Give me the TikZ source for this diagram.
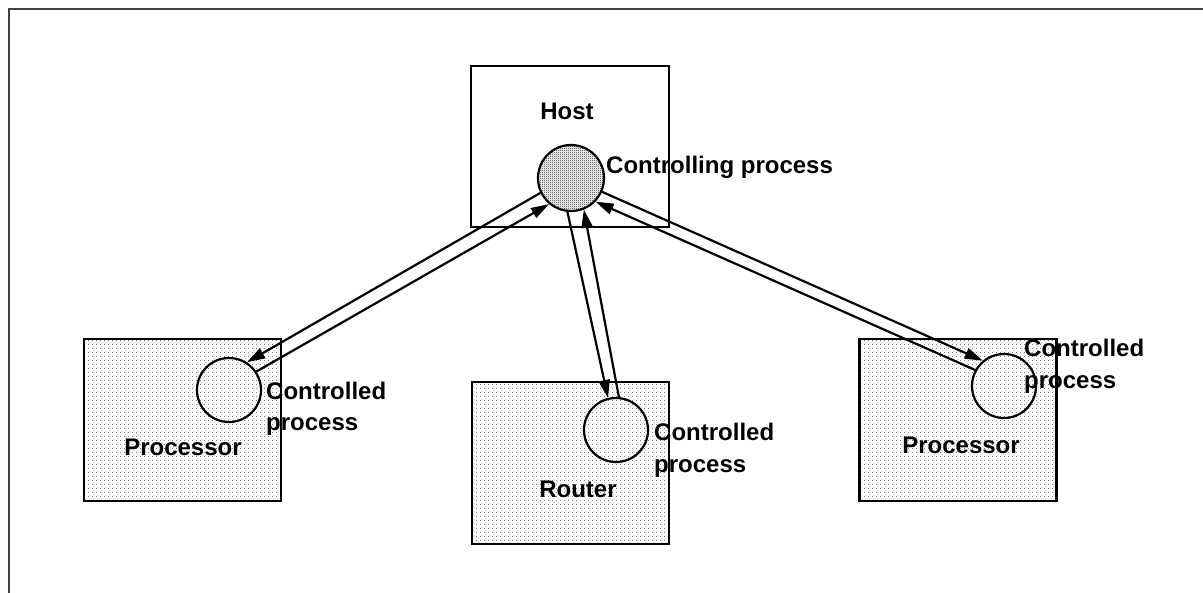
\documentclass[tikz,border=0pt]{standalone}
\usepackage{fontspec}
\setmainfont{Liberation Sans}
\usetikzlibrary{arrows.meta,patterns.meta}

% light stipple used inside the processor and router boxes
\pgfdeclarepattern{
  name=sparsedots, type=uncolored,
  bottom left={\pgfpointorigin}, top right={\pgfpoint{4bp}{4bp}},
  tile size={\pgfpoint{4bp}{4bp}},
  code={\pgfpathrectangle{\pgfpointorigin}{\pgfpoint{1bp}{1bp}}
        \pgfpathrectangle{\pgfpoint{2bp}{2bp}}{\pgfpoint{1bp}{1bp}}
        \pgfusepath{fill}}}
% dense checker used for the controlling process
\pgfdeclarepattern{
  name=densedots, type=uncolored,
  bottom left={\pgfpointorigin}, top right={\pgfpoint{2bp}{2bp}},
  tile size={\pgfpoint{2bp}{2bp}},
  code={\pgfpathrectangle{\pgfpointorigin}{\pgfpoint{1bp}{1bp}}
        \pgfpathrectangle{\pgfpoint{1bp}{1bp}}{\pgfpoint{1bp}{1bp}}
        \pgfusepath{fill}}}

\begin{document}
\begin{tikzpicture}[x=1bp,y=-1bp,
  every node/.style={font=\fontsize{24bp}{31bp}\selectfont\bfseries, inner sep=0pt},
  frameline/.style={draw=black!75, line width=1.6bp},
  hostbox/.style={draw, line width=2.5bp, minimum width=198bp, minimum height=161bp},
  nodebox/.style={draw, line width=2.5bp, minimum width=197bp, minimum height=162bp,
                  pattern=sparsedots, pattern color=black!50},
  procircle/.style={circle, draw, line width=2.2bp, minimum size=64bp},
  ctlcircle/.style={circle, draw, line width=2.2bp, minimum size=66bp,
                    pattern=densedots, pattern color=black!85},
  lbl/.style={anchor=base west},
  ttl/.style={anchor=base},
  conn/.style={line width=2.2bp, -{Triangle[length=18bp,width=11bp]}}]

\fill[white] (0,0) rectangle (1203,593);
\useasboundingbox (0,0) rectangle (1203,593);

% outer frame
\draw[frameline] (9,593) -- (9,9) -- (1203,9);

% boxes
\node[hostbox] (host) at (570,146.5) {};
\node[nodebox] (lproc) at (182.5,420) {};
\node[nodebox] (router) at (570.5,463) {};
\node[nodebox] (rproc) at (958,420) {};

% processes
\node[ctlcircle] (hc) at (571,178) {};
\node[procircle] (lc) at (229,390) {};
\node[procircle] (mc) at (616,430) {};
\node[procircle] (rc) at (1004,386) {};

% labels
\node[ttl] (hostlbl) at (567,120) {Host};
\node[lbl] (hclbl) at (606,174) {Controlling process};

\node[lbl] (lcl1) at (266,399) {Controlled};
\node[lbl] (lcl2) at (266,430) {process};
\node[ttl] (lproclbl) at (183,455) {Processor};

\node[lbl] (mcl1) at (654,440) {Controlled};
\node[lbl] (mcl2) at (654,472) {process};
\node[ttl] (routerlbl) at (578,497) {Router};

\node[lbl] (rcl1) at (1024,357) {Controlled};
\node[lbl] (rcl2) at (1024,388) {process};
\node[ttl] (rproclbl) at (961,453) {Processor};

% control links, one arrow each way
\draw[conn] (hc.206) -- (lc.57);
\draw[conn] (lc.34) -- (hc.230);

\draw[conn] (hc.264) -- (mc.104);
\draw[conn] (mc.85) -- (hc.292);

\draw[conn] (hc.336) -- (rc.130);
\draw[conn] (rc.151) -- (hc.316);
\end{tikzpicture}
\end{document}
